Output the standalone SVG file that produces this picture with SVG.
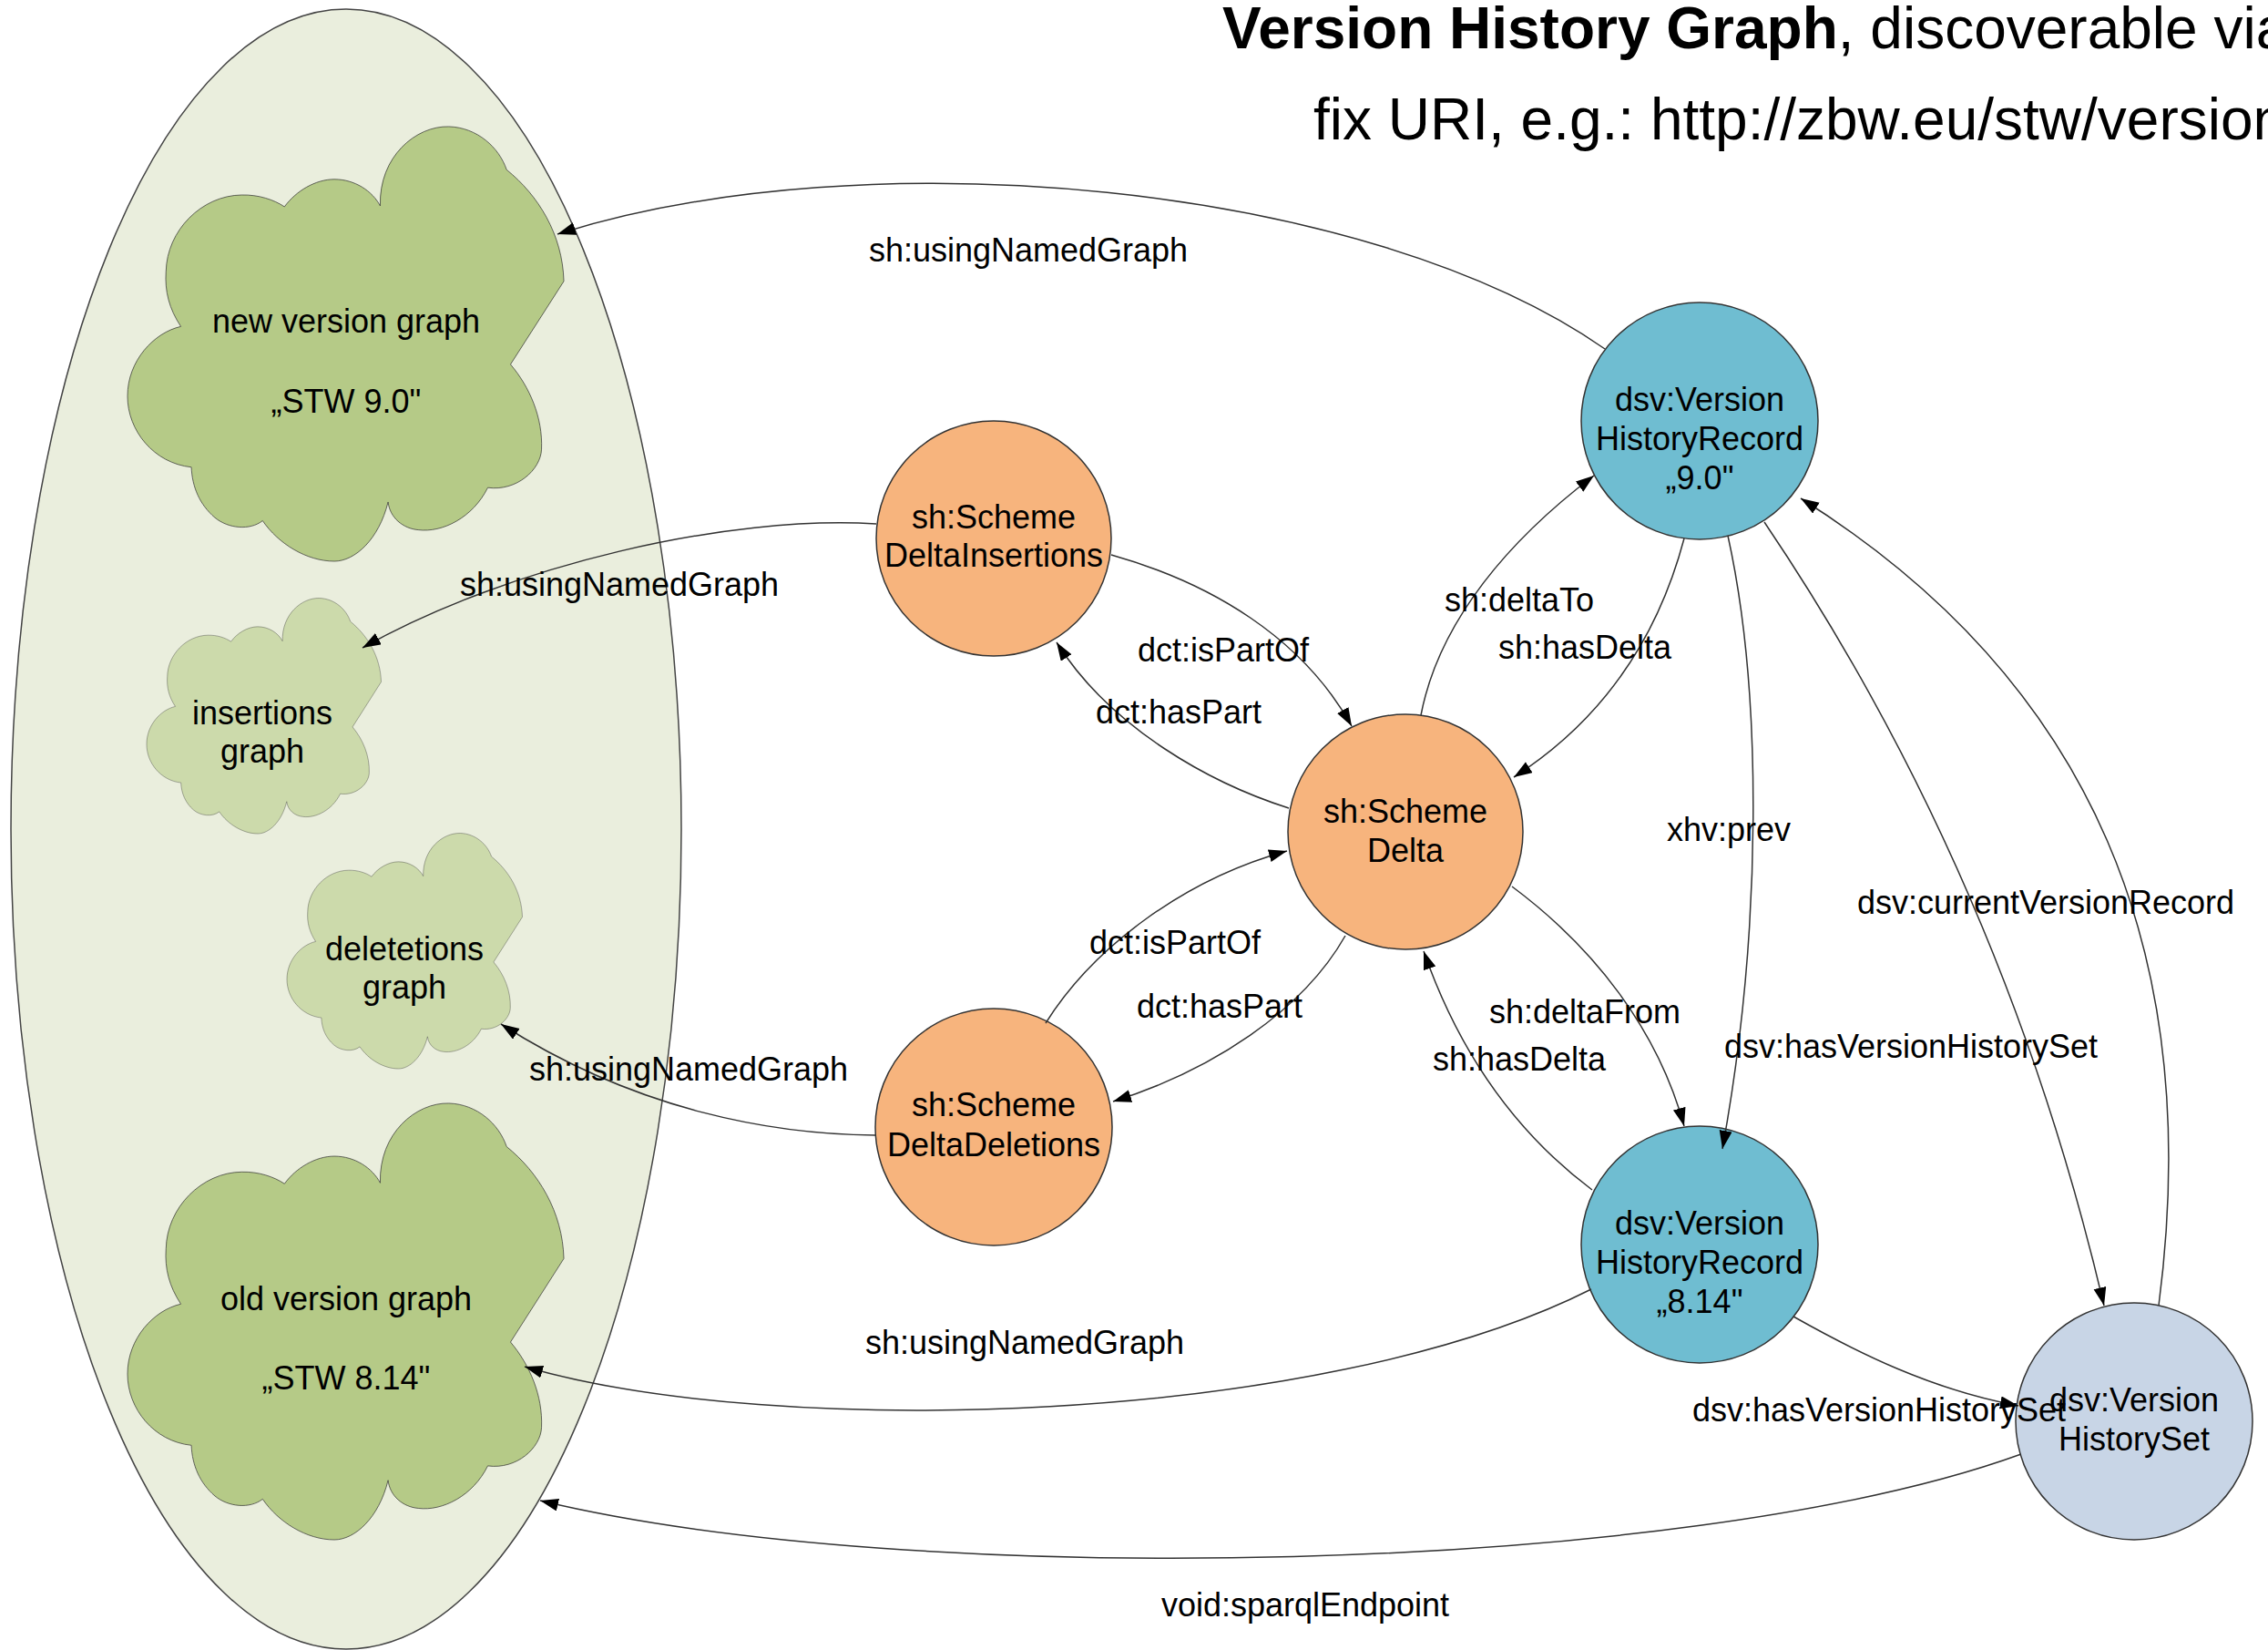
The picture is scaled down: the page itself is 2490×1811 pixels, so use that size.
<svg xmlns="http://www.w3.org/2000/svg" width="2490" height="1811" viewBox="0 0 2490 1811">
<defs>
<style>
text{font-family:"Liberation Sans",Arial,sans-serif;fill:#000;}
.t{font-size:36px;text-anchor:middle;}
.title{font-size:64px;}
.cloudA{fill:#b5ca87;stroke:#333;stroke-width:1.5;}
.cloudB{fill:#ccdaab;stroke:#333;stroke-width:1.5;}
.cl{vector-effect:non-scaling-stroke;}
.orange{fill:#f7b47d;stroke:#333;stroke-width:1.5;}
.teal{fill:#6fbdd1;stroke:#333;stroke-width:1.5;}
.set{fill:#c8d5e6;stroke:#333;stroke-width:1.5;}
.e{fill:none;stroke:#333;stroke-width:1.5;marker-end:url(#arr);}
</style>
<marker id="arr" markerUnits="userSpaceOnUse" markerWidth="22" markerHeight="16" refX="20" refY="7" orient="auto">
<path d="M0,0 L20,7 L0,14 Z" fill="#000"/>
</marker>
<path id="cloud" d="M578,184 C575,70 660,0 735,2 C800,4 850,50 867,101 C940,160 995,250 998,357 L876,548 C920,600 950,670 947,743 C945,790 890,840 824,831 C790,900 720,935 665,928 C630,925 600,900 596,864 C575,950 520,1000 473,1000 C410,1000 345,960 309,907 C280,930 230,925 200,900 C165,870 148,830 146,784 C60,775 0,700 0,621 C0,540 60,475 122,461 C95,420 85,380 88,335 C90,240 170,160 261,159 C300,158 335,170 359,186 C385,150 430,123 473,123 C520,123 560,150 578,184 Z"/>
</defs>
<rect width="2490" height="1811" fill="#fff"/>

<g id="title">
<text class="title" x="1342" y="53"><tspan font-weight="bold">Version History Graph</tspan>, discoverable via</text>
<text class="title" x="1442" y="153">fix URI, e.g.: http://zbw.eu/stw/version</text>
</g>

<g id="graph-container">
<ellipse cx="380" cy="910" rx="368" ry="900" fill="#eaeedd" stroke="#444" stroke-width="1.5"/>
</g>

<g id="new-version-graph">
<use href="#cloud" class="cloudA cl" transform="translate(140,138) scale(0.48,0.478)"/>
<text class="t" x="380" y="365">new version graph</text>
<text class="t" x="380" y="453">„STW 9.0"</text>
</g>

<g id="insertions-graph">
<use href="#cloud" class="cloudB cl" transform="translate(161,656) scale(0.258,0.259)"/>
<text class="t" x="288" y="795">insertions</text>
<text class="t" x="288" y="837">graph</text>
</g>

<g id="deletions-graph">
<use href="#cloud" class="cloudB cl" transform="translate(315,914) scale(0.259,0.259)"/>
<text class="t" x="444" y="1054">deletetions</text>
<text class="t" x="444" y="1096">graph</text>
</g>

<g id="old-version-graph">
<use href="#cloud" class="cloudA cl" transform="translate(140,1210) scale(0.48,0.48)"/>
<text class="t" x="380" y="1438">old version graph</text>
<text class="t" x="380" y="1525">„STW 8.14"</text>
</g>

<g id="vhr-9">
<circle class="teal" cx="1866" cy="462" r="130"/>
<text class="t" x="1866" y="451">dsv:Version</text>
<text class="t" x="1866" y="494">HistoryRecord</text>
<text class="t" x="1866" y="537">„9.0"</text>
</g>

<g id="vhr-814">
<circle class="teal" cx="1866" cy="1366" r="130"/>
<text class="t" x="1866" y="1355">dsv:Version</text>
<text class="t" x="1866" y="1398">HistoryRecord</text>
<text class="t" x="1866" y="1441">„8.14"</text>
</g>

<g id="vh-set">
<circle class="set" cx="2343" cy="1560" r="130"/>
<text class="t" x="2343" y="1549">dsv:Version</text>
<text class="t" x="2343" y="1592">HistorySet</text>
</g>

<g id="scheme-delta">
<circle class="orange" cx="1543" cy="913" r="129"/>
<text class="t" x="1543" y="903">sh:Scheme</text>
<text class="t" x="1543" y="946">Delta</text>
</g>

<g id="delta-insertions">
<circle class="orange" cx="1091" cy="591" r="129"/>
<text class="t" x="1091" y="580">sh:Scheme</text>
<text class="t" x="1091" y="622">DeltaInsertions</text>
</g>

<g id="delta-deletions">
<circle class="orange" cx="1091" cy="1237" r="130"/>
<text class="t" x="1091" y="1225">sh:Scheme</text>
<text class="t" x="1091" y="1269">DeltaDeletions</text>
</g>

<g id="connectors">
<path class="e" d="M1762,383 C1500,200 950,150 612,257"/>
<path class="e" d="M962,575 C800,565 560,620 398,711"/>
<path class="e" d="M1220,609 C1330,640 1430,700 1484,797"/>
<path class="e" d="M1415,887 C1330,860 1220,800 1160,705"/>
<path class="e" d="M1560,785 C1580,680 1660,590 1750,522"/>
<path class="e" d="M1849,591 C1820,700 1760,790 1662,853"/>
<path class="e" d="M1897,588 C1935,760 1935,1020 1891,1261"/>
<path class="e" d="M2370,1433 C2420,1050 2300,750 1977,547"/>
<path class="e" d="M1937,573 C2070,770 2220,1050 2310,1433"/>
<path class="e" d="M1660,973 C1750,1040 1820,1130 1849,1236"/>
<path class="e" d="M1748,1306 C1660,1240 1600,1150 1563,1044"/>
<path class="e" d="M1148,1123 C1200,1040 1300,965 1413,934"/>
<path class="e" d="M1477,1027 C1430,1110 1330,1175 1222,1209"/>
<path class="e" d="M961,1246 C850,1245 700,1220 550,1124"/>
<path class="e" d="M1747,1415 C1450,1565 850,1580 576,1500"/>
<path class="e" d="M2219,1596 C1850,1730 1000,1745 593,1647"/>
<path class="e" d="M1969,1445 C2040,1485 2120,1525 2216,1543"/>
<text class="t" x="1129" y="287">sh:usingNamedGraph</text>
<text class="t" x="680" y="654">sh:usingNamedGraph</text>
<text class="t" x="1343" y="726">dct:isPartOf</text>
<text class="t" x="1294" y="794">dct:hasPart</text>
<text class="t" x="1668" y="671">sh:deltaTo</text>
<text class="t" x="1740" y="723">sh:hasDelta</text>
<text class="t" x="1898" y="923">xhv:prev</text>
<text class="t" x="2246" y="1003">dsv:currentVersionRecord</text>
<text class="t" x="2098" y="1161">dsv:hasVersionHistorySet</text>
<text class="t" x="1740" y="1123">sh:deltaFrom</text>
<text class="t" x="1668" y="1175">sh:hasDelta</text>
<text class="t" x="1290" y="1047">dct:isPartOf</text>
<text class="t" x="1339" y="1117">dct:hasPart</text>
<text class="t" x="756" y="1186">sh:usingNamedGraph</text>
<text class="t" x="1125" y="1486">sh:usingNamedGraph</text>
<text class="t" x="1433" y="1774">void:sparqlEndpoint</text>
<text class="t" x="2063" y="1560">dsv:hasVersionHistorySet</text>
</g>
</svg>
